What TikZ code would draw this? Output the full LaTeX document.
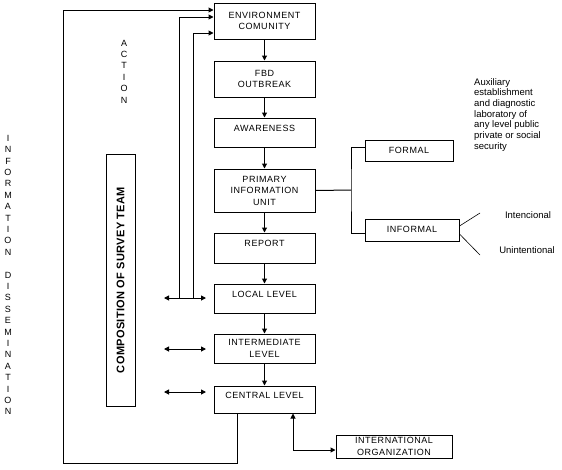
\documentclass[tikz,border=0pt]{standalone}
\usepackage{fontspec}
\setmainfont{Liberation Sans}
\newfontfamily\boxfont[LetterSpace=6]{Liberation Sans}
\newfontfamily\compfont[LetterSpace=3]{Liberation Sans}
\usetikzlibrary{arrows.meta}
\begin{document}
\begin{tikzpicture}[x=1pt,y=-1pt,
  box/.style={draw, line width=1pt, minimum width=101pt, inner sep=0pt, align=center,
              font=\boxfont\fontsize{9}{11.5}\selectfont},
  tup/.style={text height=6.4pt, text depth=#1},
  arr/.style={-{Triangle[length=5pt,width=5pt]}, line width=1pt},
  darr/.style={{Triangle[length=5pt,width=5pt]}-{Triangle[length=5pt,width=5pt]}, line width=1pt},
  ln/.style={line width=1pt},
  vtext/.style={align=center, inner sep=0pt, font=\fontsize{9}{11.4}\selectfont},
  small/.style={align=left, inner sep=0pt, font=\fontsize{9.5}{10.7}\selectfont}]
\useasboundingbox (0,0) rectangle (562,469);

% main column
\node[box, minimum height=36pt] (env) at (264.5,21) {ENVIRONMENT\\COMUNITY};
\node[box, minimum height=36pt] (fbd) at (264.5,79) {FBD\\OUTBREAK};
\node[box, minimum height=29pt, tup=9pt] (aware) at (264.5,132.5) {AWARENESS};
\node[box, minimum height=43pt] (piu) at (264.5,190.5) {PRIMARY\\INFORMATION\\UNIT};
\node[box, minimum height=30pt, tup=9pt] (report) at (264.5,248) {REPORT};
\node[box, minimum height=29pt, tup=8pt] (local) at (264.5,298.5) {LOCAL LEVEL};
\node[box, minimum height=29pt] (inter) at (264.5,348.5) {INTERMEDIATE\\LEVEL};
\node[box, minimum height=27pt, tup=8pt] (central) at (264.5,399.5) {CENTRAL LEVEL};
\node[box, minimum width=116pt, minimum height=23pt] (intl) at (394,446.5) {INTERNATIONAL\\ORGANIZATION};

% side boxes
\node[box, minimum width=88pt, minimum height=21pt] (formal) at (409,150.5) {FORMAL};
\node[box, minimum width=94pt, minimum height=22pt, tup=2pt] (informal) at (412,230) {INFORMAL};
\node[draw, line width=1pt, minimum width=252pt, minimum height=29pt, inner sep=0pt, rotate=90,
      font=\compfont\bfseries\fontsize{11}{13}\selectfont] (comp) at (120.5,280) {COMPOSITION OF SURVEY TEAM};

% free texts
\node[vtext] (action) at (124,71.5) {A\\C\\T\\I\\O\\N};
\node[vtext] (infodis) at (8,275) {I\\N\\F\\O\\R\\M\\A\\T\\I\\O\\N\\\mbox{}\\D\\I\\S\\S\\E\\M\\I\\N\\A\\T\\I\\O\\N};
\node[small, anchor=north west] (aux) at (474,78) {Auxiliary\\establishment\\and diagnostic\\laboratory of\\any level public\\private or social\\security};
\node[inner sep=0pt, font=\fontsize{9.5}{11}\selectfont] (intenc) at (528,215) {Intencional};
\node[inner sep=0pt, font=\fontsize{9.5}{11}\selectfont] (unint) at (527,250) {Unintentional};

% flow arrows
\draw[arr] (env) -- (fbd);
\draw[arr] (fbd) -- (aware);
\draw[arr] (aware) -- (piu);
\draw[arr] (piu) -- (report);
\draw[arr] (report) -- (local);
\draw[arr] (local) -- (inter);
\draw[arr] (inter) -- (central);

% branch to formal / informal
\coordinate (br) at (351,190);
\draw[ln] (piu.east) -- (br);
\draw[ln] ([yshift=3.5pt]formal.west) -| (br) |- ([yshift=-3pt]informal.west);
\coordinate (i1) at (480,213);
\coordinate (i2) at (480,255);
\draw[line width=0.6pt] ([yshift=4pt]informal.east) -- (i1);
\draw[line width=0.6pt] ([yshift=-4pt]informal.east) -- (i2);

% feedback loop from central level
\coordinate (lc) at (63,463);
\draw[arr] ([xshift=-27.5pt]central.south) |- (lc) |- ([yshift=11pt]env.west);

% action lines from local level
\coordinate (la) at (164,298);
\coordinate (lb) at (206,298);
\coordinate (v1) at (179,298);
\coordinate (v2) at (193,298);
\draw[darr] (la) -- (lb);
\draw[arr] (v1) |- ([yshift=4pt]env.west);
\draw[arr] (v2) |- ([yshift=-12pt]env.west);

% dissemination arrows
\coordinate (ma) at (164,349);
\coordinate (mb) at (206,349);
\draw[darr] (ma) -- (mb);
\coordinate (ca) at (164,392);
\coordinate (cb) at (206,392);
\draw[darr] (ca) -- (cb);

% international
\draw[darr] ([xshift=28.5pt]central.south) |- ([yshift=-3.5pt]intl.west);
\end{tikzpicture}
\end{document}
